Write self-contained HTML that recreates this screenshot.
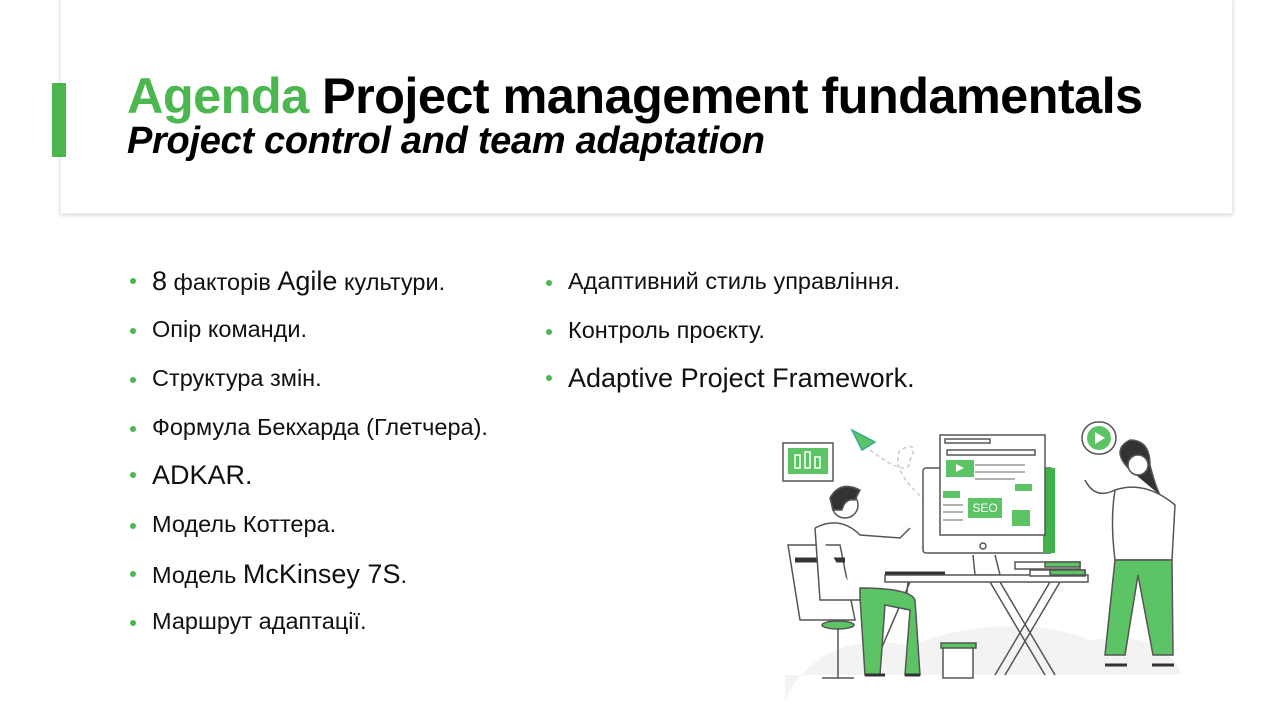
<!DOCTYPE html>
<html><head><meta charset="utf-8"><style>
body{margin:0;width:1280px;height:720px;background:#fff;position:relative;overflow:hidden;font-family:"Liberation Sans",sans-serif}
.hdr{position:absolute;left:60px;top:-2px;width:1171px;height:214px;background:#fff;box-shadow:0 1px 4px rgba(0,0,0,.18);border:1px solid #eee}
.bar{position:absolute;left:52px;top:83px;width:14px;height:74px;background:#4cb74f}
.t1{position:absolute;left:127px;top:66px;font-size:50.5px;font-weight:bold;letter-spacing:-0.6px;white-space:nowrap;color:#000}
.t1 span{color:#4cb74f}
.t2{position:absolute;left:127px;top:120px;font-size:38px;font-weight:bold;font-style:italic;white-space:nowrap;letter-spacing:-0.3px}
.li{position:absolute;font-size:23.5px;color:#111;white-space:nowrap;font-family:"Liberation Sans","DejaVu Sans",sans-serif}
.li:before{content:"";position:absolute;left:-22px;top:12px;width:6px;height:6px;border-radius:50%;background:#4cb74f}
.big{font-size:27px}
</style></head><body>
<div class="hdr"></div>
<div class="bar"></div>
<div class="t1"><span>Agenda</span> Project management fundamentals</div>
<div class="t2">Project control and team adaptation</div>

<div class="li" style="left:152px;top:266px"><span class="big">8</span> факторів <span class="big">Agile</span> культури.</div>
<div class="li" style="left:152px;top:316px">Опір команди.</div>
<div class="li" style="left:152px;top:365px">Структура змін.</div>
<div class="li" style="left:152px;top:414px">Формула Бекхарда (Глетчера).</div>
<div class="li big" style="left:152px;top:460px">ADKAR.</div>
<div class="li" style="left:152px;top:511px">Модель Коттера.</div>
<div class="li" style="left:152px;top:559px">Модель <span class="big">McKinsey 7S</span>.</div>
<div class="li" style="left:152px;top:608px">Маршрут адаптації.</div>
<div class="li" style="left:568px;top:268px">Адаптивний стиль управління.</div>
<div class="li" style="left:568px;top:317px">Контроль проєкту.</div>
<div class="li big" style="left:568px;top:363px">Adaptive Project Framework.</div>

<svg style="position:absolute;left:760px;top:410px" width="440" height="290" viewBox="0 0 440 290">
<path d="M25 290 Q60 220 150 235 Q250 200 330 230 Q400 220 420 260 L420 265 L25 265Z" fill="#f3f3f3"/>
<g fill="none" stroke="#555" stroke-width="1.5">
<rect x="23" y="33" width="50" height="38" fill="#fff"/>
<rect x="28" y="38" width="40" height="26" fill="#5cc464" stroke="none"/>
<rect x="35" y="45" width="5" height="13" stroke="#fff"/><rect x="45" y="42" width="5" height="16" stroke="#fff"/><rect x="55" y="47" width="5" height="11" stroke="#fff"/>
<rect x="322" y="12" width="34" height="32" rx="16" fill="#fff"/>
<circle cx="339" cy="28" r="12" fill="#5cc464" stroke="none"/>
<path d="M335 22 L345 28 L335 34Z" fill="#fff" stroke="none"/>
<path d="M92 20 L115 32 L102 40Z" fill="#5cc464" stroke="#3a9"/>
<path d="M110 40 Q150 70 150 50 Q160 30 140 40 Q130 60 165 90" stroke="#ccc" stroke-dasharray="4 3"/>
<rect x="163" y="58" width="130" height="85" rx="3" fill="#fff"/>
<rect x="283" y="58" width="12" height="85" fill="#3fb34a" stroke="none"/>
<rect x="180" y="25" width="105" height="100" fill="#fff"/>
<rect x="185" y="29" width="45" height="4"/>
<rect x="187" y="40" width="88" height="5"/>
<rect x="186" y="50" width="28" height="17" fill="#5cc464" stroke="none"/>
<path d="M196 54 L204 58 L196 62Z" fill="#fff" stroke="none"/>
<rect x="183" y="81" width="17" height="7" fill="#5cc464" stroke="none"/>
<rect x="255" y="74" width="17" height="7" fill="#5cc464" stroke="none"/>
<rect x="208" y="88" width="34" height="20" fill="#5cc464" stroke="none"/>
<rect x="252" y="100" width="18" height="16" fill="#5cc464" stroke="none"/>
<path d="M215 55h50M215 62h50M215 69h40M183 95h20M183 102h20M183 110h20" stroke="#999"/>
<circle cx="223" cy="136" r="3"/>
<path d="M213 145 L215 165 L240 165 L235 145"/>
<rect x="125" y="165" width="203" height="7" fill="#fff"/>
<rect x="255" y="152" width="65" height="7" fill="#fff"/><rect x="285" y="152" width="35" height="5" fill="#5cc464"/>
<rect x="270" y="160" width="55" height="6" fill="#fff"/><rect x="290" y="160" width="35" height="5" fill="#5cc464"/>
<path d="M125 163h60" stroke="#333" stroke-width="3"/>
<path d="M150 172 L110 265 M148 172 L145 200 M230 172 L285 265 M290 172 L235 265 M240 172 L295 265 M300 172 L245 265"/>
<rect x="183" y="236" width="30" height="32" fill="#fff"/>
<rect x="181" y="233" width="35" height="5" fill="#5cc464"/>
<path d="M28 135 L80 135 L95 210 L40 210Z" fill="#fff"/>
<path d="M35 150 L85 150" stroke="#333" stroke-width="5"/>
<ellipse cx="78" cy="215" rx="16" ry="4" fill="#5cc464"/>
<path d="M78 218 V268 M62 268 H94"/>
<path d="M55 118 Q80 105 100 125 L140 128 L150 118 M55 118 L60 190 L100 190" fill="#fff"/>
<circle cx="85" cy="95" r="13" fill="#fff"/>
<path d="M70 88 Q80 70 100 80 L95 90 Q85 88 82 100 L73 100Z" fill="#333"/>
<path d="M100 188 L105 265 L120 265 L125 195 L150 200 L145 265 L160 265 L155 190 Q150 178 100 178Z" fill="#5cc464"/>
<path d="M105 265 h20 M145 265 h15" stroke="#333" stroke-width="3"/>
<path d="M370 60 Q350 40 370 30 Q390 30 390 55 Q395 75 400 85" fill="#333"/>
<circle cx="378" cy="55" r="10" fill="#fff"/>
<path d="M355 80 Q385 70 415 95 L412 150 L355 150 Q350 110 355 80Z" fill="#fff"/>
<path d="M355 80 Q335 90 325 70" />
<path d="M355 150 L345 245 L365 245 L378 165 L393 245 L413 245 L412 150Z" fill="#5cc464"/>
<path d="M345 255 h22 M392 255 h22" stroke="#333" stroke-width="3"/>
</g>
<text x="225" y="102" font-family="Liberation Sans" font-size="12" fill="#fff" text-anchor="middle">SEO</text>
</svg>
</body></html>
